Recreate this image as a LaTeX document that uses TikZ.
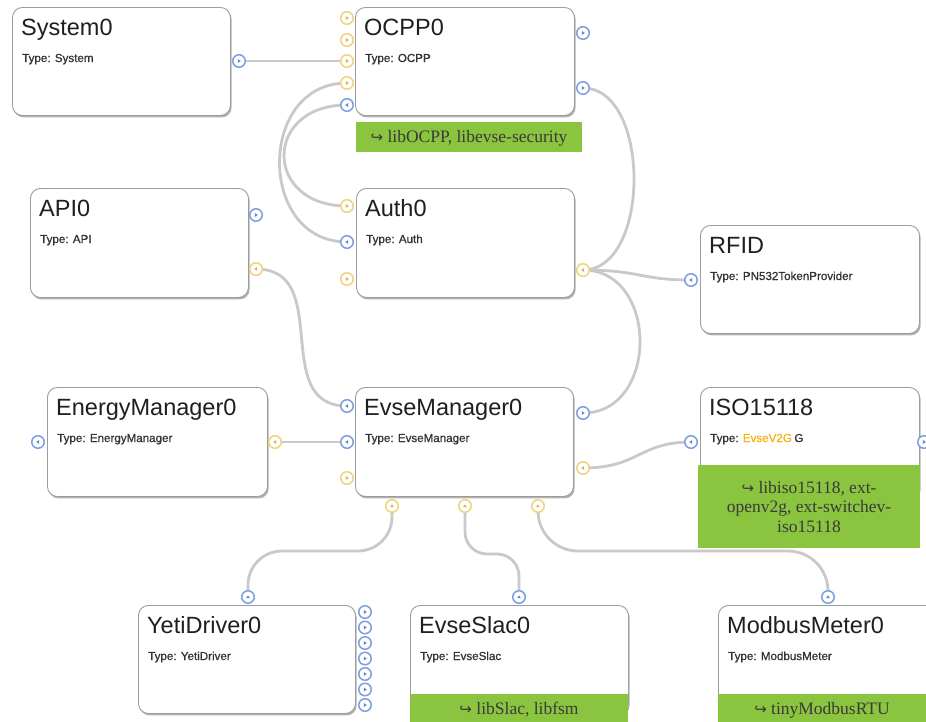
\documentclass[tikz,border=0pt]{standalone}
\usepackage{fontspec}
\setmainfont{Liberation Sans}
\newfontfamily\titlefont{Liberation Sans}
\newfontfamily\typefont{Liberation Sans}[FakeBold=0.8]
\newfontfamily\orfont{Liberation Sans}[FakeBold=1.2]
\newfontfamily\libfont{Liberation Serif}
\newfontfamily\arrowfont{DejaVu Sans}
\usetikzlibrary{shadows}

\definecolor{portblue}{HTML}{7F9FE0}
\definecolor{portyellow}{HTML}{EFD47A}
\definecolor{wirecol}{HTML}{C9C9C9}
\definecolor{framecol}{HTML}{9C9C9C}
\definecolor{libgreen}{HTML}{8BC53F}
\definecolor{libtext}{HTML}{3A3A3A}
\definecolor{v2g}{HTML}{F6B41B}

\pgfdeclarelayer{bg}
\pgfdeclarelayer{wires}
\pgfsetlayers{bg,wires,main}

\tikzset{
  modbox/.style={draw=framecol, line width=0.9pt, fill=white, rounded corners=10pt,
    inner sep=0pt, anchor=north west,
    drop shadow={shadow xshift=1.2pt, shadow yshift=-2pt, opacity=0.5, fill=black!60}},
  titletext/.style={anchor=base west, inner sep=0pt,
    font=\titlefont\fontsize{23.5}{26}\selectfont, text=black!88},
  typetext/.style={anchor=base west, inner sep=0pt,
    font=\typefont\fontsize{11.6}{13}\selectfont, text=black!80},
  libbox/.style={fill=libgreen, inner sep=0pt, anchor=north west},
  libtxt/.style={inner sep=0pt, font=\libfont\fontsize{17.5}{19.5}\selectfont,
    text=libtext, align=center},
  port/.style={circle, draw=#1, line width=1.5pt, fill=white,
    minimum size=12.5pt, inner sep=0pt},
  triR/.style={path picture={\fill[#1] ([xshift=-1.2pt,yshift=2pt]path picture bounding box.center)
      -- ++(3pt,-2pt) -- ++(-3pt,-2pt) -- cycle;}},
  triL/.style={path picture={\fill[#1] ([xshift=1.2pt,yshift=2pt]path picture bounding box.center)
      -- ++(-3pt,-2pt) -- ++(3pt,-2pt) -- cycle;}},
  triU/.style={path picture={\fill[#1] ([xshift=-2pt,yshift=-1.2pt]path picture bounding box.center)
      -- ++(2pt,2.8pt) -- ++(2pt,-2.8pt) -- cycle;}},
  bR/.style={port=portblue, triR=portblue!85!black},
  bL/.style={port=portblue, triL=portblue!85!black},
  bU/.style={port=portblue, triU=portblue!85!black},
  yR/.style={port=portyellow, triR=portyellow!85!black},
  yL/.style={port=portyellow, triL=portyellow!85!black},
  yU/.style={port=portyellow, triU=portyellow!85!black},
  wire/.style={draw=wirecol, line width=2.8pt},
}

% module box: name, x, y, width, height, title, type line
\newcommand\modbox[7]{%
  \node[modbox, minimum width=#4pt, minimum height=#5pt] (#1) at (#2,#3) {};
  \node[titletext] (#1-title) at ({#2+9},{#3+28}) {#6};
  \node[typetext] (#1-type) at ({#2+10},{#3+55}) {#7};
}
\newcommand\hook{{\arrowfont\fontsize{15}{15}\selectfont ↪}}

\begin{document}
\begin{tikzpicture}[x=1pt, y=-1pt]
  \useasboundingbox (0,0) rectangle (926,721);
  \clip (0,0) rectangle (926,721);
  \begin{pgfonlayer}{bg}
    \fill[white] (0,0) rectangle (926,721);
  \end{pgfonlayer}

  % modules
  \modbox{sys}{12}{7}{218}{108}{System0}{Type: System}
  \modbox{ocpp}{355}{7}{219}{108}{OCPP0}{Type: OCPP}
  \modbox{api}{30}{188}{218}{109}{API0}{Type: API}
  \modbox{auth}{356}{188}{218}{109}{Auth0}{Type: Auth}
  \modbox{rfid}{700}{225}{219}{108}{RFID}{Type: PN532TokenProvider}
  \modbox{em}{47}{387}{220}{109}{EnergyManager0}{Type: EnergyManager}
  \modbox{evse}{355}{387}{218}{109}{EvseManager0}{Type: EvseManager}
  \modbox{iso}{700}{387}{219}{110}{ISO15118}{Type: {\orfont\color{v2g}EvseV2G}\hspace{2.5pt}G}
  \modbox{yeti}{138}{605}{217}{108}{YetiDriver0}{Type: YetiDriver}
  \modbox{slac}{410}{605}{218}{108}{EvseSlac0}{Type: EvseSlac}
  \modbox{mod}{718}{605}{230}{108}{ModbusMeter0}{Type: ModbusMeter}

  % ports
  \node[bR] (sys-o) at (239,61) {};

  \node[yR] (ocpp-i1) at (347,18) {};
  \node[yR] (ocpp-i2) at (347,40) {};
  \node[yR] (ocpp-i3) at (347,61) {};
  \node[yR] (ocpp-i4) at (347,83) {};
  \node[bL] (ocpp-i5) at (347,105) {};
  \node[bR] (ocpp-o1) at (583,33) {};
  \node[bR] (ocpp-o2) at (583,88) {};

  \node[yR] (auth-i1) at (347,206) {};
  \node[bL] (auth-i2) at (347,242) {};
  \node[yR] (auth-i3) at (347,279) {};
  \node[yL] (auth-o) at (583,270) {};

  \node[bR] (api-o1) at (256,215) {};
  \node[yL] (api-o2) at (256,269) {};

  \node[bL] (rfid-i) at (691,280) {};

  \node[bL] (em-i) at (38,442) {};
  \node[yL] (em-o) at (275,442) {};

  \node[bL] (evse-i1) at (347,406) {};
  \node[bL] (evse-i2) at (347,442) {};
  \node[yR] (evse-i3) at (347,478) {};
  \node[bR] (evse-o1) at (583,413) {};
  \node[yL] (evse-o2) at (583,468) {};
  \node[yU] (evse-b1) at (392,506) {};
  \node[yU] (evse-b2) at (465,506) {};
  \node[yU] (evse-b3) at (538,506) {};

  \node[bL] (iso-i) at (691,442) {};
  \node[bR] (iso-o) at (924,442) {};

  \node[bU] (yeti-t) at (248,597) {};
  \foreach \k in {1,...,7}
    \node[bR] (yeti-o\k) at (365,{596.5+15.5*\k}) {};
  \node[bU] (slac-t) at (519,597) {};
  \node[bU] (mod-t) at (828,597) {};

  % connections
  \begin{pgfonlayer}{wires}
    \draw[wire] (sys-o.center) -- (ocpp-i3.center);
    \draw[wire] (ocpp-i4.center) .. controls +(-90,0) and +(-90,0) .. (auth-i2.center);
    \draw[wire] (ocpp-i5.center) .. controls +(-84,0) and +(-84,0) .. (auth-i1.center);
    \draw[wire] (ocpp-o2.center) .. controls +(68,0) and +(68,0) .. (auth-o.center);
    \draw[wire] (auth-o.center) .. controls +(76,0) and +(76,0) .. (evse-o1.center);
    \draw[wire] (auth-o.center) .. controls +(58,0) and +(-52,0) .. (rfid-i.center);
    \draw[wire] (api-o2.center) .. controls +(78,0) and +(-78,0) .. (evse-i1.center);
    \draw[wire] (em-o.center) -- (evse-i2.center);
    \draw[wire] (evse-o2.center) .. controls +(56,0) and +(-52,0) .. (iso-i.center);
    \draw[wire, rounded corners=34pt] (evse-b1.center) -- ++(0,45) -| (yeti-t.center);
    \draw[wire, rounded corners=22pt] (evse-b2.center) -- ++(0,48) -| (slac-t.center);
    \draw[wire, rounded corners=40pt] (evse-b3.center) -- ++(0,45) -| (mod-t.center);
  \end{pgfonlayer}

  % library notes
  \node[libbox, minimum width=226pt, minimum height=30pt] (ocpp-lib) at (356,122) {};
  \node[libtxt, anchor=base] (ocpp-libtxt) at (469,142) {\hook\ libOCPP, libevse-security};

  \node[libbox, minimum width=222pt, minimum height=83pt] (iso-lib) at (698,465) {};
  \node[libtxt] (iso-libtxt) at (809,507) {\hook\ libiso15118, ext-\\openv2g, ext-switchev-\\iso15118};

  \node[libbox, minimum width=218pt, minimum height=30pt] (slac-lib) at (410,694) {};
  \node[libtxt, anchor=base] (slac-libtxt) at (519,714) {\hook\ libSlac, libfsm};

  \node[libbox, minimum width=215pt, minimum height=30pt] (mod-lib) at (718,694) {};
  \node[libtxt, anchor=base] (mod-libtxt) at (822,714) {\hook\ tinyModbusRTU};
\end{tikzpicture}
\end{document}
